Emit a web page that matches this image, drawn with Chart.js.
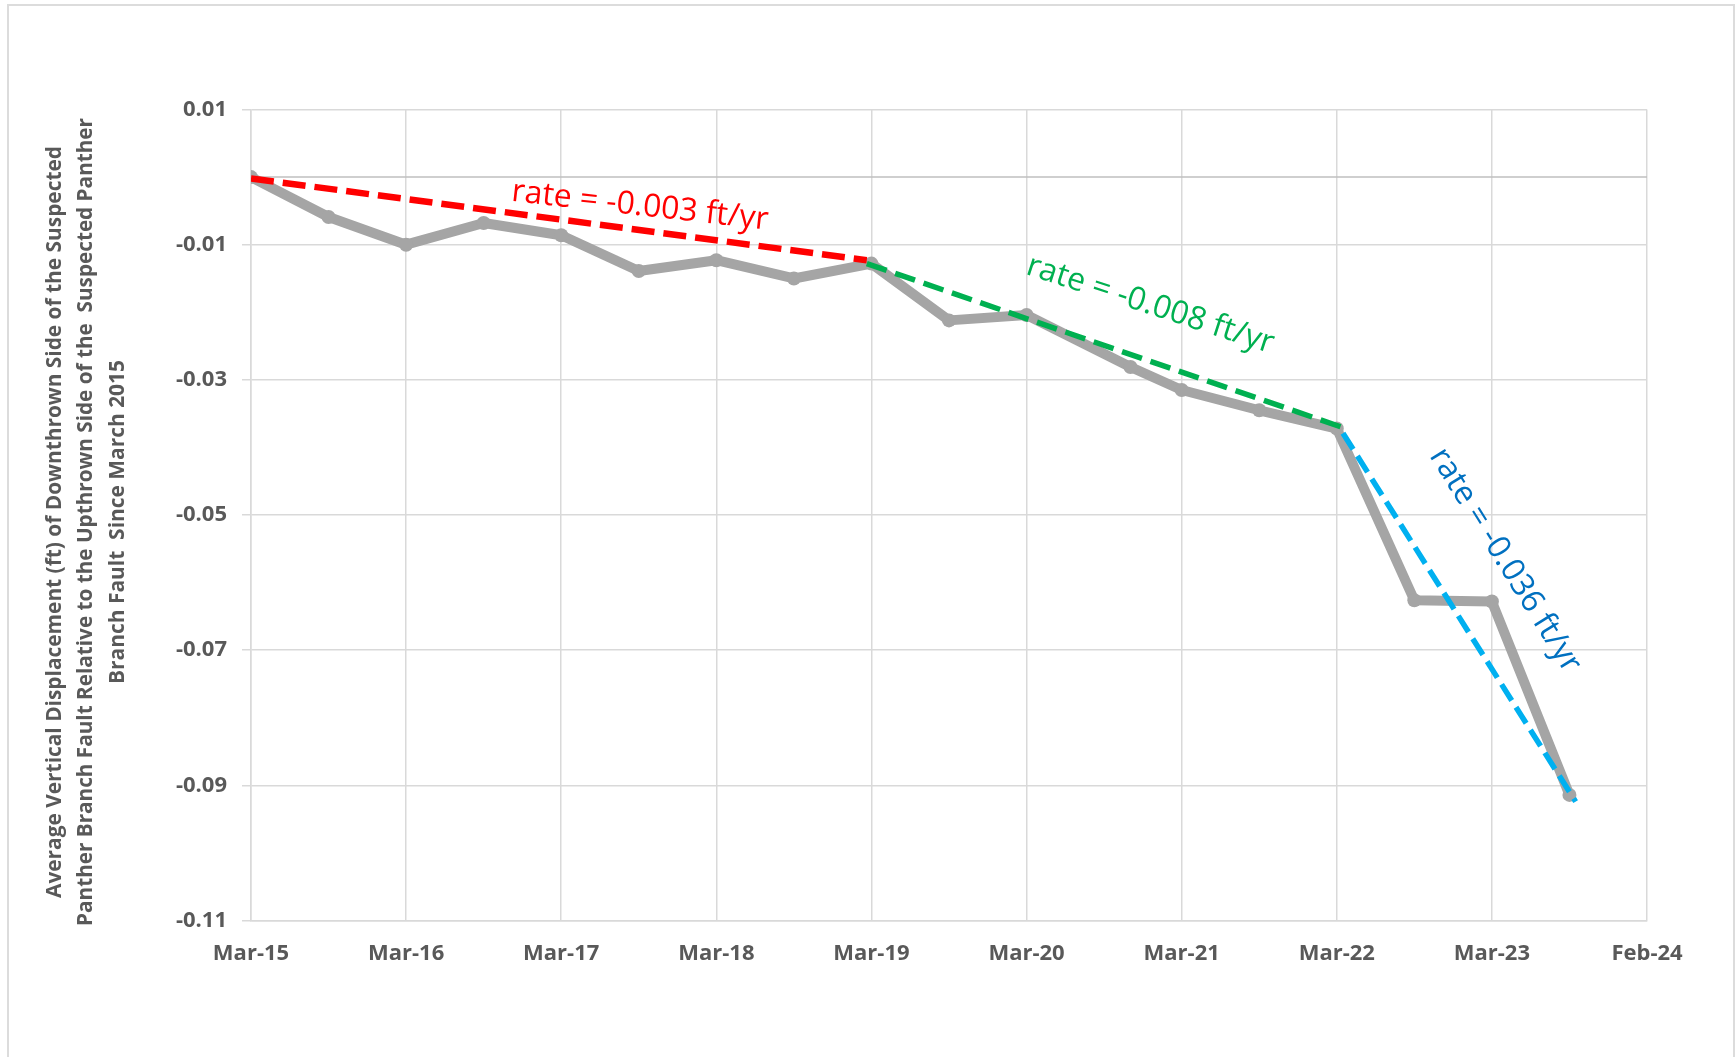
<!DOCTYPE html>
<html>
<head>
<meta charset="utf-8">
<title>Panther Branch Fault displacement</title>
<script src="https://cdn.jsdelivr.net/npm/chart.js@4.4.1/dist/chart.umd.min.js"></script>
<style>
  html, body { margin: 0; padding: 0; background: #fff; overflow: hidden; }
  #frame { position: absolute; left: 7px; top: 4px; width: 1728px; height: 1100px; border: 2px solid #dcdcdc; box-sizing: border-box; }
  #chart { position: absolute; left: 0; top: 0; }
</style>
</head>
<body>
<div id="frame"></div>
<canvas id="chart" width="1735" height="1057"></canvas>
<script>
// years since March 2015
const surveyYears = [0, 0.5, 1, 1.5, 2, 2.5, 3, 3.5, 4, 4.5, 5, 5.67, 6, 6.5, 7, 7.5, 8, 8.5];
// average vertical displacement (ft)
const displacement = [0, -0.0059, -0.0100, -0.0068, -0.0086, -0.0139, -0.0123, -0.0150, -0.0128,
  -0.0212, -0.0204, -0.0281, -0.0315, -0.0345, -0.0372, -0.0626, -0.0628, -0.0914];

// fitted rate lines (start / end)
const redTrendX = [0, 3.97];
const redTrendY = [-0.0002, -0.0123];
const greenTrendX = [3.97, 7.07];
const greenTrendY = [-0.0128, -0.0373];
const blueTrendX = [7.04, 8.54];
const blueTrendY = [-0.0379, -0.0924];

const rateTexts = ['rate = -0.003 ft/yr', 'rate = -0.008 ft/yr', 'rate = -0.036 ft/yr'];

const xTickPos = [0, 1, 2, 3, 4, 5, 6, 7, 8, 9];
const xTickLabels = ['Mar-15', 'Mar-16', 'Mar-17', 'Mar-18', 'Mar-19', 'Mar-20', 'Mar-21', 'Mar-22', 'Mar-23', 'Feb-24'];
const yTickPos = [0.01, -0.01, -0.03, -0.05, -0.07, -0.09, -0.11];
const yTickLabels = ['0.01', '-0.01', '-0.03', '-0.05', '-0.07', '-0.09', '-0.11'];

const yTitle = [
  'Average Vertical Displacement (ft) of Downthrown Side of the Suspected',
  'Panther Branch Fault Relative to the Upthrown Side of the  Suspected Panther',
  'Branch Fault  Since March 2015'
];

const pts = (xs, ys) => xs.map((v, i) => ({ x: v, y: ys[i] }));

const GRID = '#d9d9d9';
const LABEL = '#595959';

const extras = {
  id: 'extras',
  beforeDatasetsDraw(chart) {
    // horizontal axis line crosses at zero
    const { ctx, chartArea, scales: { y } } = chart;
    const py = y.getPixelForValue(0);
    ctx.save();
    ctx.strokeStyle = '#bfbfbf';
    ctx.lineWidth = 1.5;
    ctx.beginPath();
    ctx.moveTo(chartArea.left, py);
    ctx.lineTo(chartArea.right, py);
    ctx.stroke();
    ctx.restore();
  },
  afterDatasetsDraw(chart) {
    const { ctx, scales: { x, y } } = chart;
    const spots = [
      { x: 2.508, y: -0.0043, angle: 6.4, color: '#ff0000' },
      { x: 5.797, y: -0.0189, angle: 18, color: '#00b050' },
      { x: 8.085, y: -0.0567, angle: 58, color: '#0070c0' }
    ];
    ctx.save();
    ctx.font = '32px "Open Sans"';
    ctx.textAlign = 'center';
    ctx.textBaseline = 'middle';
    spots.forEach((s, i) => {
      ctx.save();
      ctx.translate(x.getPixelForValue(s.x), y.getPixelForValue(s.y));
      ctx.rotate(s.angle * Math.PI / 180);
      ctx.fillStyle = s.color;
      ctx.fillText(rateTexts[i], 0, 0, 258);
      ctx.restore();
    });
    ctx.restore();
  },
  afterDraw(chart) {
    const { ctx } = chart;
    const xs = [55, 86, 118];
    const widths = [752, 808, 324];
    ctx.save();
    ctx.font = 'bold 22px "Open Sans"';
    ctx.fillStyle = LABEL;
    ctx.textAlign = 'center';
    ctx.textBaseline = 'middle';
    yTitle.forEach((line, i) => {
      ctx.save();
      ctx.translate(xs[i], 522);
      ctx.rotate(-Math.PI / 2);
      ctx.fillText(line, 0, 0, widths[i]);
      ctx.restore();
    });
    ctx.restore();
  }
};

new Chart(document.getElementById('chart'), {
  type: 'line',
  data: {
    datasets: [
      {
        label: 'Displacement',
        data: pts(surveyYears, displacement),
        borderColor: '#a5a5a5',
        backgroundColor: '#a5a5a5',
        borderWidth: 10,
        borderJoinStyle: 'round',
        borderCapStyle: 'round',
        pointRadius: 7,
        pointBorderWidth: 0,
        pointBackgroundColor: '#a5a5a5',
        tension: 0,
        order: 4
      },
      {
        label: 'Rate 2015-2019',
        data: pts(redTrendX, redTrendY),
        borderColor: '#ff0000',
        borderWidth: 6.5,
        borderDash: [23, 9],
        pointRadius: 0,
        order: 1
      },
      {
        label: 'Rate 2019-2022',
        data: pts(greenTrendX, greenTrendY),
        borderColor: '#00b050',
        borderWidth: 5.5,
        borderDash: [21, 9],
        pointRadius: 0,
        order: 2
      },
      {
        label: 'Rate 2022-2023',
        data: pts(blueTrendX, blueTrendY),
        borderColor: '#00b0f0',
        borderWidth: 5.5,
        borderDash: [19, 8],
        pointRadius: 0,
        order: 3
      }
    ]
  },
  options: {
    responsive: false,
    animation: false,
    devicePixelRatio: 1,
    events: [],
    layout: { padding: { top: 109.5, right: 88, left: 0, bottom: 0 } },
    plugins: {
      legend: { display: false },
      tooltip: { enabled: false }
    },
    scales: {
      x: {
        type: 'linear',
        min: 0,
        max: 9,
        afterBuildTicks: (s) => { s.ticks = xTickPos.map(v => ({ value: v })); },
        afterFit: (s) => { s.height = 136.4; },
        grid: { color: GRID, lineWidth: 1.5, drawTicks: false },
        border: { color: GRID, width: 1.5 },
        ticks: {
          padding: 20,
          maxRotation: 0,
          autoSkip: false,
          color: LABEL,
          font: { family: '"Open Sans"', size: 22, weight: 'bold' },
          callback: (v, i) => xTickLabels[i]
        }
      },
      y: {
        min: -0.11,
        max: 0.01,
        afterBuildTicks: (s) => { s.ticks = yTickPos.map(v => ({ value: v })); },
        afterFit: (s) => { s.width = 251; },
        grid: { color: GRID, lineWidth: 1.5, drawTicks: true, tickLength: 9 },
        border: { color: GRID, width: 1.5 },
        ticks: {
          padding: 15,
          color: LABEL,
          font: { family: '"Open Sans"', size: 22, weight: 'bold' },
          callback: (v, i) => yTickLabels[i]
        }
      }
    }
  },
  plugins: [extras]
});
</script>
</body>
</html>
